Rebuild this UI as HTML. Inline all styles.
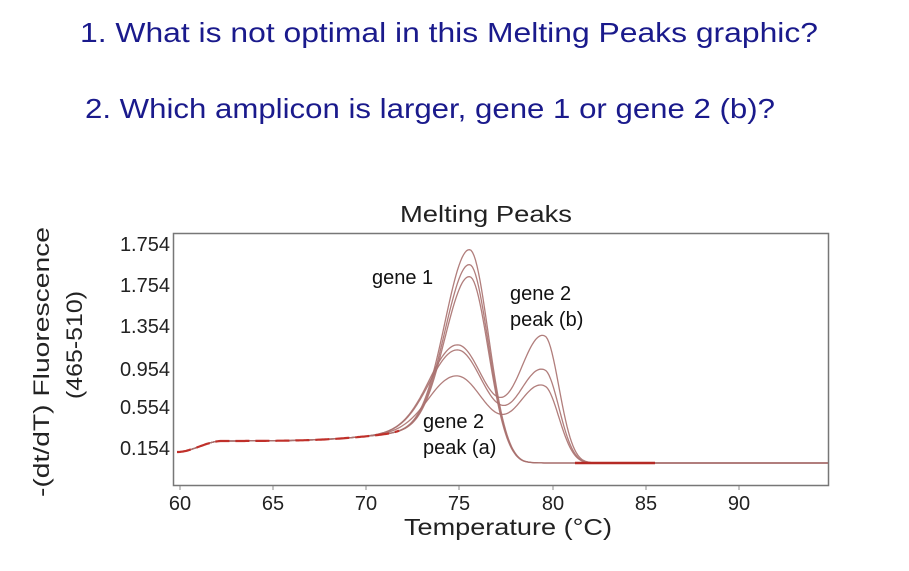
<!DOCTYPE html>
<html><head><meta charset="utf-8"><style>
html,body{margin:0;padding:0;background:#fff;width:909px;height:571px;overflow:hidden}
text{font-family:"Liberation Sans",sans-serif}
</style></head><body>
<svg id="s" width="909" height="571" viewBox="0 0 909 571" xmlns="http://www.w3.org/2000/svg">
<text x="80" y="42" font-size="28" fill="#1a1a8c" textLength="738" lengthAdjust="spacingAndGlyphs">1. What is not optimal in this Melting Peaks graphic?</text>
<text x="85" y="118" font-size="28" fill="#1a1a8c" textLength="690" lengthAdjust="spacingAndGlyphs">2. Which amplicon is larger, gene 1 or gene 2 (b)?</text>
<text x="486" y="222" font-size="23" fill="#222" text-anchor="middle" textLength="172" lengthAdjust="spacingAndGlyphs">Melting Peaks</text>
<rect x="173.5" y="233.5" width="655" height="252" fill="none" stroke="#777" stroke-width="1.5"/>
<g font-size="20" fill="#222" text-anchor="end">
<text x="170" y="251">1.754</text><text x="170" y="292">1.754</text><text x="170" y="333">1.354</text>
<text x="170" y="376">0.954</text><text x="170" y="414">0.554</text><text x="170" y="455">0.154</text>
</g>
<g font-size="20" fill="#222" text-anchor="middle">
<text x="180" y="510">60</text><text x="273" y="510">65</text><text x="366" y="510">70</text>
<text x="459" y="510">75</text><text x="553" y="510">80</text><text x="646" y="510">85</text><text x="739" y="510">90</text>
</g>
<g stroke="#888" stroke-width="1">
<line x1="180" y1="486" x2="180" y2="490"/><line x1="273" y1="486" x2="273" y2="490"/><line x1="366" y1="486" x2="366" y2="490"/><line x1="459" y1="486" x2="459" y2="490"/><line x1="553" y1="486" x2="553" y2="490"/><line x1="646" y1="486" x2="646" y2="490"/><line x1="739" y1="486" x2="739" y2="490"/>
</g>
<text x="508" y="535" font-size="23" fill="#222" text-anchor="middle" textLength="208" lengthAdjust="spacingAndGlyphs">Temperature (°C)</text>
<text transform="translate(49,362) rotate(-90)" font-size="22" fill="#222" text-anchor="middle" textLength="270" lengthAdjust="spacingAndGlyphs">-(dt/dT) Fluorescence</text>
<text transform="translate(82,345) rotate(-90)" font-size="22" fill="#222" text-anchor="middle" textLength="108" lengthAdjust="spacingAndGlyphs">(465-510)</text>
<g id="curves" fill="none"></g>
<g font-size="20" fill="#111">
<text x="372" y="284">gene 1</text>
<text x="510" y="300">gene 2</text><text x="510" y="326">peak (b)</text>
<text x="423" y="428">gene 2</text><text x="423" y="454">peak (a)</text>
</g>
</svg>
<script>
function ss(a,b,x){var t=Math.min(1,Math.max(0,(x-a)/(b-a)));return t*t*(3-2*t);}
function g(x,c,wl,wr,A){var d=x-c,w=d<0?wl:wr;return A*Math.exp(-d*d/(2*w*w));}
function base(x,f0,f1){return 463-(11+11*ss(177,222,x))*(1-ss(f0,f1,x));}
var cur=[];
[188,173,161].forEach(function(A){cur.push(function(x){return base(x,470,525)-g(x,470,24,18,A)-g(x,440,60,20,10);});});
[[93,112],[88,78],[62,62]].forEach(function(p){cur.push(function(x){return base(x,520,585)-g(x,459,28,25,p[0])-g(x,545,24,14,p[1])-g(x,430,60,20,8);});});
var G=document.getElementById('curves'),h='';
cur.forEach(function(f){var d='';for(var x=177;x<=828;x+=1.5){d+=(d?'L':'M')+x.toFixed(1)+','+f(x).toFixed(1);}h+='<path d="'+d+'" stroke="#a8706e" stroke-width="1.3" stroke-opacity="0.9"/>';});
var d='';for(var x=177;x<=400;x+=1.5){d+=(d?'L':'M')+x+','+cur[0](x).toFixed(1);}
h+='<path d="'+d+'" stroke="#c0302a" stroke-width="2.2" stroke-dasharray="14,6"/>';
h+='<path d="M575,463L655,463" stroke="#b52a25" stroke-width="2.5"/>';
G.innerHTML=h;
</script>
</body></html>
